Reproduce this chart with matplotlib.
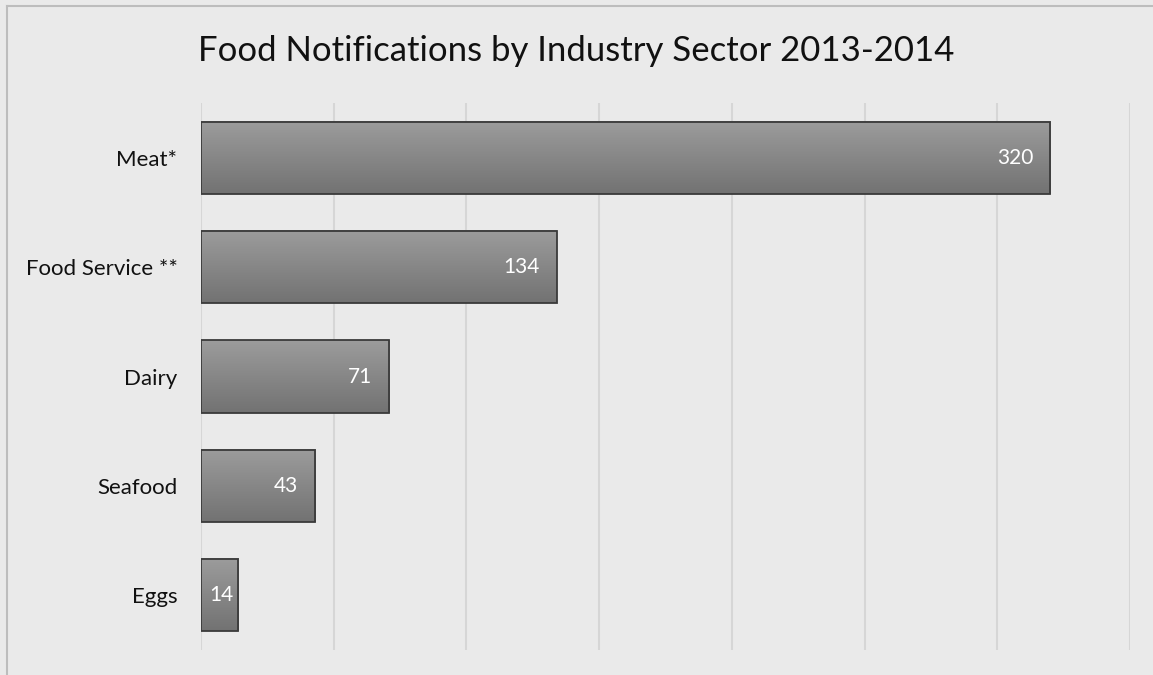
import numpy as np
import matplotlib.pyplot as plt
from matplotlib.lines import Line2D

plt.rcParams['font.family'] = ['Lato', 'DejaVu Sans']

sectors = ['Meat*', 'Food Service **', 'Dairy', 'Seafood', 'Eggs']
counts = [320, 134, 71, 43, 14]

bg = '#EAEAEA'
fig = plt.figure(figsize=(11.53, 6.75), dpi=100, facecolor=bg)
ax = fig.add_axes([201 / 1153, 25 / 675, 929 / 1153, 547 / 675])
ax.set_facecolor(bg)

ypos = np.arange(len(sectors))
height = 0.66
xmax = 350
px_per_unit = 929 / xmax

# vertical gradient for bar fill: lighter at the top, darker at the bottom
grad = np.linspace(0, 1, 256).reshape(-1, 1)
cmap = plt.matplotlib.colors.LinearSegmentedColormap.from_list('bar', ['#9C9C9C', '#727272'])

for y, v in zip(ypos, counts):
    ax.imshow(grad, extent=(0, v, y + height / 2, y - height / 2), aspect='auto',
              cmap=cmap, origin='upper', zorder=2)

bars = ax.barh(ypos, counts, height=height, facecolor='none',
               edgecolor='#3A3A3A', linewidth=1.3, zorder=3)

# value labels at the inside end; short bars get the label pushed to the left
for b, v in zip(bars, counts):
    yc = b.get_y() + b.get_height() / 2
    if v * px_per_unit > 60:
        ax.annotate(str(v), (v, yc), xytext=(-17, 0), textcoords='offset pixels',
                    ha='right', va='center', color='white', fontsize=15, zorder=4)
    else:
        ax.annotate(str(v), (0, yc), xytext=(8, 0), textcoords='offset pixels',
                    ha='left', va='center', color='white', fontsize=15, zorder=4)

ax.set_xlim(0, xmax)
ax.set_ylim(len(sectors) - 0.5, -0.5)
ax.set_xticks(np.arange(0, xmax + 1, 50))
ax.xaxis.grid(True, color='#D6D6D6', linewidth=1.5, zorder=0)
ax.set_axisbelow(True)
ax.tick_params(axis='x', length=0, labelbottom=False)
ax.tick_params(axis='y', length=0, pad=17, labelsize=16)
ax.set_yticks(ypos)
ax.set_yticklabels(sectors, color='#111111')
for s in ax.spines.values():
    s.set_visible(False)

fig.text(0.5, 1 - 51 / 675, 'Food Notifications by Industry Sector 2013-2014',
         ha='center', va='center', fontsize=25, color='#111111')

# left and top frame lines
fig.add_artist(Line2D([6.5 / 1153, 6.5 / 1153], [0, 1 - 5.5 / 675], color='#BDBDBD',
                      linewidth=1.5, transform=fig.transFigure))
fig.add_artist(Line2D([6.5 / 1153, 1], [1 - 5.5 / 675, 1 - 5.5 / 675], color='#BDBDBD',
                      linewidth=1.5, transform=fig.transFigure))

fig.savefig('out.png', dpi=100, facecolor=bg)
